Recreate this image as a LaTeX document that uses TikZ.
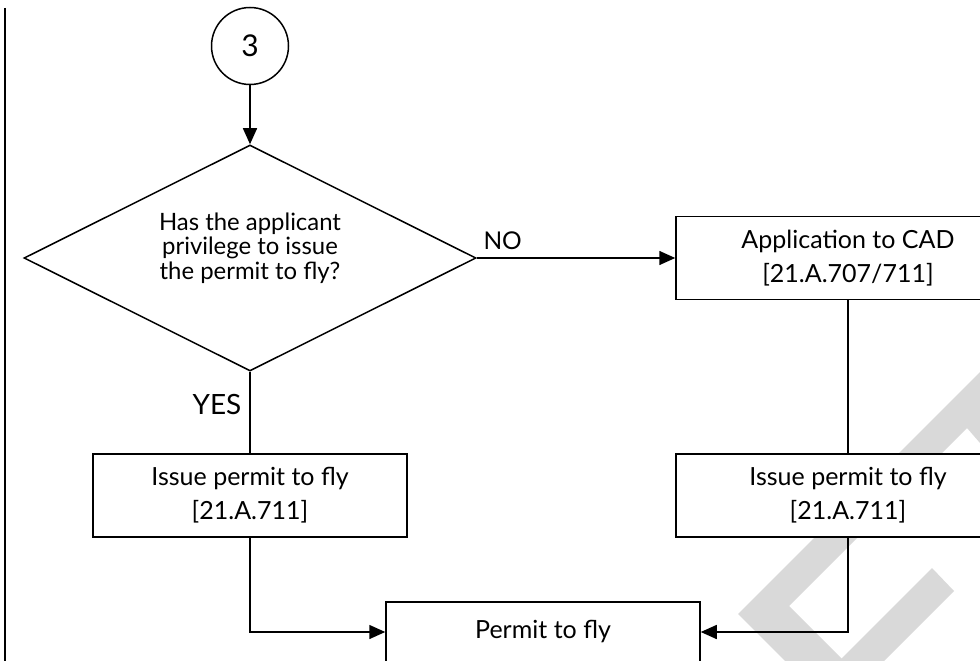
\documentclass[tikz,border=0pt]{standalone}
\usepackage{fontspec}
\setmainfont{Lato}
\usetikzlibrary{shapes.geometric,positioning,arrows.meta}

\begin{document}
\begin{tikzpicture}[x=1pt, y=-1pt, on grid, line width=1.5pt,
>={Triangle[length=16pt,width=14pt]},
joint/.style={circle, draw, minimum size=77pt, inner sep=0pt, font=\fontsize{30}{30}\selectfont},
decision/.style={diamond, draw, aspect=2, minimum width=452pt, minimum height=226pt, inner sep=0pt},
question/.style={align=center, yshift=10pt, font=\fontsize{23.9}{24.5}\selectfont},
process/.style={rectangle, draw, fill=white, align=center, minimum width=314pt,
minimum height=83pt, font=\fontsize{25}{34}\selectfont},
answer/.style={inner sep=0pt, font=\fontsize{24.5}{24}\selectfont}]
\useasboundingbox (0,0) rectangle (980,661);
\clip (0,0) rectangle (980,661);
\fill [black!15] (980,372) -- (738,614) -- (785,661) -- (844,661) -- (789,606)
-- (967,428) -- (980,443) -- cycle;
\fill [black!15] (932,568) -- (954,591) -- (884,661) -- (839,661) -- cycle;
\draw [line width=2.2pt] (5,8) -- (5,661);
\node [joint] (c_3) at (250,46) {3};
\node [decision, label={[question]center:Has the applicant\\privilege to issue\\the permit to fly?}]
(q) [below = 212pt of c_3] {};
\node [process, minimum width=344pt] (app) [right = 598pt of q] {Application to CAD\\{[}21.A.707/711{]}};
\node [process] (issue_l) [below = 237.5pt of q] {Issue permit to fly\\{[}21.A.711{]}};
\node [process, minimum width=344pt] (issue_r) [below = 237.5pt of app] {Issue permit to fly\\{[}21.A.711{]}};
\node [process, minimum height=60pt, font=\fontsize{25}{30}\selectfont] (permit)
[below right = 136.5pt and 293pt of issue_l] {Permit to fly};
\path [->]
(c_3) edge (q)
(q) edge node [answer, pos=0, anchor=base west, xshift=6pt, yshift=9pt] {NO} (app);
\path
(q) edge node [answer, pos=0.4, anchor=east, xshift=-8pt, font=\fontsize{27.9}{28}\selectfont] {YES} (issue_l)
(app) edge (issue_r);
\draw [->] (issue_l) |- (permit);
\draw [->] (issue_r) |- (permit);
\end{tikzpicture}
\end{document}
